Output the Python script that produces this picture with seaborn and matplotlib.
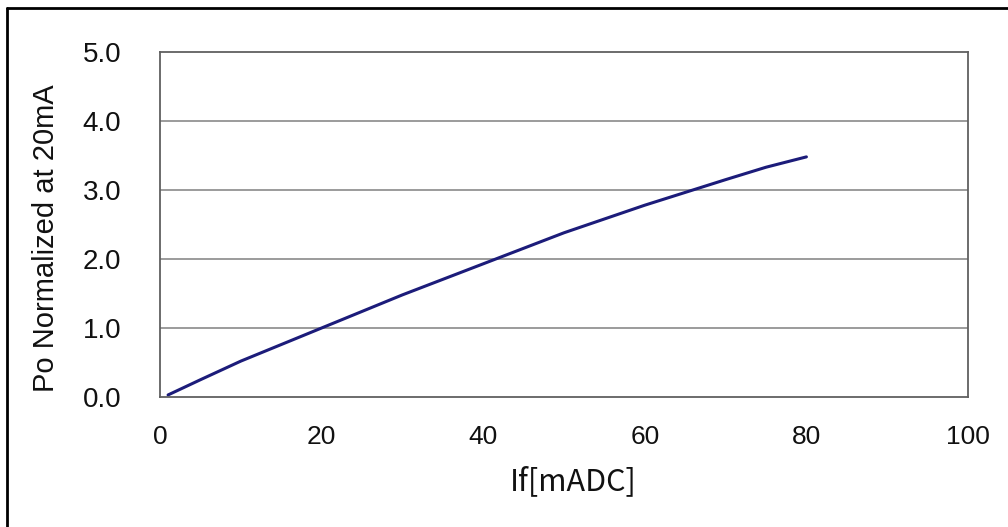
import matplotlib
matplotlib.use("Agg")
import matplotlib.pyplot as plt
import matplotlib.lines as mlines
import seaborn as sns
import pandas as pd

# forward current [mA] vs relative optical power (normalized at 20mA)
current_ma = [1, 5, 10, 20, 30, 40, 50, 60, 70, 75, 80]
power_norm = [0.03, 0.25, 0.52, 1.0, 1.48, 1.93, 2.38, 2.78, 3.15, 3.33, 3.48]

x_ticks = [0, 20, 40, 60, 80, 100]
y_ticks = [0.0, 1.0, 2.0, 3.0, 4.0, 5.0]

df = pd.DataFrame({"If": current_ma, "Po": power_norm})

sns.set_style("white")
plt.rcParams["font.family"] = ["Liberation Sans", "DejaVu Sans"]

fig = plt.figure(figsize=(10.08, 5.27), dpi=100)
ax = fig.add_axes([160 / 1008, 130 / 527, 808 / 1008, 345 / 527])

sns.lineplot(data=df, x="If", y="Po", ax=ax, color="#1c1c7a", linewidth=2.2)

ax.set_xlim(0, 100)
ax.set_ylim(0, 5)
ax.set_xticks(x_ticks)
ax.set_yticks(y_ticks)
ax.set_yticklabels([f"{v:.1f}" for v in y_ticks])

# excel-style horizontal gridlines only
for v in y_ticks[1:-1]:
    ax.axhline(v, color="#808080", linewidth=1.1, zorder=0)

for side in ["left", "bottom", "right", "top"]:
    ax.spines[side].set_visible(True)
    ax.spines[side].set_color("#606060")
    ax.spines[side].set_linewidth(1.3)

ax.tick_params(axis="x", direction="in", length=5, width=1, color="#606060",
               pad=20, labelsize=19, labelcolor="#111111")
ax.tick_params(axis="y", direction="in", length=5, width=1, color="#606060",
               pad=28, labelsize=20, labelcolor="#111111")

ax.set_ylabel("Po Normalized at 20mA", fontsize=21, color="#111111")
ax.yaxis.set_label_coords(-0.124, 0.46)
ax.set_xlabel("If[mADC]", fontsize=22, color="#111111",
              family=["Noto Sans CJK JP", "DejaVu Sans"])
ax.xaxis.set_label_coords(0.512, -0.2)

# outer frame (left and top edges, as in the cropped original)
fig.add_artist(mlines.Line2D([7 / 1008, 7 / 1008], [0, 1 - 8 / 527],
                             transform=fig.transFigure, color="black", linewidth=2))
fig.add_artist(mlines.Line2D([7 / 1008, 1], [1 - 8 / 527, 1 - 8 / 527],
                             transform=fig.transFigure, color="black", linewidth=2))

fig.savefig("out.png", dpi=100)
